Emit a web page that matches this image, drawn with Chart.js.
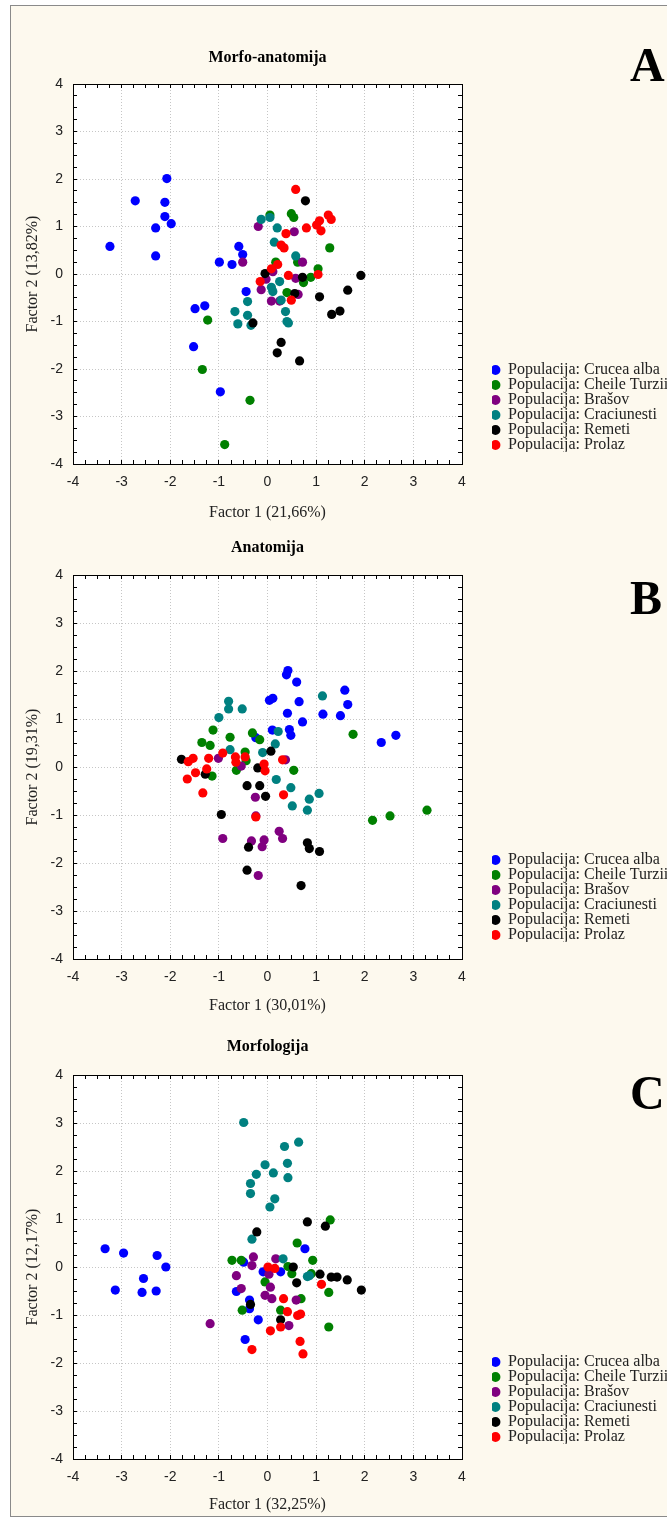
<!DOCTYPE html>
<html>
<head>
<meta charset="utf-8">
<script src="https://cdn.jsdelivr.net/npm/chart.js@4.4.1/dist/chart.umd.min.js"></script>
<style>
html,body{margin:0;padding:0;background:#ffffff;overflow:hidden;width:667px;height:1520px;}
#frame{position:absolute;left:10px;top:5px;width:700px;height:1510px;border:1px solid #8a8a8a;background:#fdf9ee;}
canvas.panel{position:absolute;left:0;}
.letter{position:absolute;left:630px;font-family:'Liberation Serif',serif;font-weight:bold;font-size:48px;line-height:48px;color:#000;}
</style>
</head>
<body>
<div id="frame"></div>
<canvas id="cA" class="panel" style="top:0px" width="667" height="530"></canvas>
<canvas id="cB" class="panel" style="top:530px" width="667" height="500"></canvas>
<canvas id="cC" class="panel" style="top:1030px" width="667" height="490"></canvas>
<div class="letter" style="top:41px">A</div>
<div class="letter" style="top:574px">B</div>
<div class="letter" style="top:1069px">C</div>
<script>
// ---------- labels ----------
const POPULATIONS = ['Populacija: Crucea alba','Populacija: Cheile Turzii','Populacija: Brašov','Populacija: Craciunesti','Populacija: Remeti','Populacija: Prolaz'];
const COLORS = ['#0000ff','#008000','#800080','#008080','#000000','#ff0000'];
const AXIS_TICKS = [-4,-3.75,-3.5,-3.25,-3,-2.75,-2.5,-2.25,-2,-1.75,-1.5,-1.25,-1,-0.75,-0.5,-0.25,0,0.25,0.5,0.75,1,1.25,1.5,1.75,2,2.25,2.5,2.75,3,3.25,3.5,3.75,4];

// ---------- A: Morfo-anatomija ----------
const A_CRUCEA = [[-3.24,0.58],[-2.72,1.54],[-2.07,2.01],[-2.11,1.51],[-2.11,1.21],[-2.30,0.97],[-1.98,1.06],[-2.30,0.38],[-0.99,0.25],[-0.73,0.20],[-0.59,0.58],[-0.51,0.41],[-0.44,-0.37],[-1.49,-0.73],[-1.29,-0.67],[-1.52,-1.53],[-0.97,-2.48]];
const A_CHEILE = [[0.05,1.24],[0.49,1.27],[0.54,1.19],[1.28,0.55],[0.17,0.25],[0.62,0.25],[1.04,0.11],[-1.23,-0.97],[-1.34,-2.01],[-0.36,-2.66],[-0.88,-3.59],[0.40,-0.39],[0.74,-0.18],[0.89,-0.07]];
const A_BRASOV = [[-0.51,0.25],[-0.19,1.00],[0.55,0.89],[0.72,0.25],[-0.03,-0.11],[-0.13,-0.33],[0.08,-0.57],[0.25,-0.57],[0.58,-0.09],[0.63,-0.43],[0.11,0.05]];
const A_CRACIUNESTI = [[-0.13,1.15],[0.05,1.19],[0.20,0.97],[0.14,0.67],[0.58,0.38],[-0.41,-0.58],[-0.41,-0.87],[-0.67,-0.79],[-0.61,-1.05],[-0.34,-1.08],[0.25,-0.16],[0.08,-0.28],[0.11,-0.37],[0.28,-0.55],[0.37,-0.79],[0.40,-1.00],[0.43,-1.03]];
const A_REMETI = [[0.78,1.54],[-0.05,0.01],[-0.30,-1.03],[0.72,-0.07],[0.56,-0.41],[1.07,-0.48],[1.32,-0.85],[1.49,-0.78],[1.65,-0.34],[1.92,-0.03],[0.28,-1.44],[0.20,-1.66],[0.66,-1.83]];
const A_PROLAZ = [[0.58,1.78],[0.38,0.85],[0.80,0.97],[0.28,0.61],[0.34,0.55],[1.07,1.12],[1.01,1.03],[1.10,0.91],[1.25,1.24],[1.31,1.15],[0.21,0.20],[0.08,0.11],[-0.15,-0.16],[0.43,-0.03],[1.04,-0.01],[0.49,-0.55]];

// ---------- B: Anatomija ----------
const B_CRUCEA = [[0.42,2.01],[0.39,1.92],[0.60,1.77],[0.04,1.39],[0.11,1.43],[0.65,1.36],[0.41,1.12],[0.72,0.94],[1.14,1.10],[1.50,1.07],[1.59,1.60],[1.65,1.30],[2.34,0.51],[2.64,0.66],[0.10,0.77],[0.45,0.78],[0.48,0.66],[-0.24,0.61]];
const B_CHEILE = [[-1.12,0.77],[-1.35,0.51],[-1.18,0.45],[-0.77,0.62],[-0.31,0.71],[-0.16,0.57],[1.76,0.68],[-0.46,0.31],[-1.14,-0.19],[-0.64,-0.07],[-0.44,0.13],[0.54,-0.07],[2.16,-1.11],[2.52,-1.02],[3.28,-0.90]];
const B_BRASOV = [[-1.01,0.18],[-0.54,0.02],[0.37,0.15],[-0.25,-0.63],[-0.24,-1.02],[-0.92,-1.49],[-0.33,-1.54],[-0.07,-1.52],[-0.11,-1.66],[0.24,-1.34],[0.31,-1.49],[-0.19,-2.26]];
const B_CRACIUNESTI = [[-0.80,1.37],[-0.80,1.21],[-0.52,1.21],[-1.00,1.03],[1.13,1.48],[0.22,0.74],[0.16,0.48],[-0.77,0.36],[-0.10,0.30],[0.18,-0.26],[0.48,-0.43],[0.51,-0.81],[0.82,-0.90],[0.86,-0.67],[1.06,-0.55]];
const B_REMETI = [[0.07,0.33],[-1.77,0.16],[-1.28,-0.15],[-0.20,-0.02],[-0.42,-0.39],[-0.16,-0.39],[-0.04,-0.61],[-0.95,-0.99],[-0.39,-1.67],[-0.42,-2.15],[0.82,-1.58],[0.86,-1.70],[1.07,-1.76],[0.69,-2.47]];
const B_PROLAZ = [[-1.63,0.11],[-1.53,0.18],[-1.21,0.18],[-0.92,0.29],[-0.66,0.21],[-0.65,0.10],[-0.46,0.21],[-1.25,-0.04],[-1.48,-0.12],[-1.65,-0.25],[-1.33,-0.54],[-0.07,0.06],[-0.05,-0.08],[0.31,0.15],[0.33,-0.58],[-0.24,-1.04]];

// ---------- C: Morfologija ----------
const C_CRUCEA = [[0.77,0.38],[-3.34,0.38],[-2.96,0.29],[-2.27,0.24],[-2.09,0.00],[-2.55,-0.24],[-3.13,-0.48],[-2.58,-0.53],[-2.29,-0.50],[-0.49,0.10],[-0.09,-0.10],[0.27,-0.10],[-0.64,-0.51],[-0.37,-0.69],[-0.37,-0.87],[-0.19,-1.10],[-0.46,-1.51]];
const C_CHEILE = [[1.29,0.98],[0.61,0.50],[-0.73,0.14],[-0.54,0.14],[0.42,0.01],[0.50,-0.14],[0.93,0.14],[0.90,-0.14],[-0.05,-0.31],[-0.52,-0.90],[0.69,-0.66],[0.27,-0.90],[1.26,-0.53],[1.26,-1.25]];
const C_BRASOV = [[-0.29,0.21],[0.17,0.17],[-0.32,0.03],[-0.64,-0.18],[0.03,-0.15],[0.06,-0.42],[-0.54,-0.45],[-0.05,-0.59],[0.09,-0.66],[0.59,-0.69],[-1.18,-1.18],[0.44,-1.22]];
const C_CRACIUNESTI = [[-0.49,3.01],[0.35,2.51],[0.64,2.60],[-0.05,2.13],[0.41,2.16],[-0.23,1.93],[0.12,1.96],[0.42,1.86],[-0.35,1.74],[-0.35,1.53],[0.15,1.42],[0.05,1.25],[-0.32,0.58],[0.32,0.17],[0.82,-0.20],[0.86,-0.18]];
const C_REMETI = [[-0.22,0.73],[0.82,0.94],[1.19,0.85],[0.53,0.00],[0.60,-0.33],[1.08,-0.15],[1.31,-0.21],[1.43,-0.21],[1.64,-0.27],[1.93,-0.48],[-0.35,-0.78],[0.27,-1.10]];
const C_PROLAZ = [[0.01,0.00],[0.15,-0.03],[1.11,-0.36],[0.33,-0.66],[0.41,-0.93],[0.62,-1.01],[0.68,-0.98],[0.06,-1.33],[0.27,-1.25],[0.67,-1.55],[-0.32,-1.72],[0.73,-1.81]];

const PANELS = [
  {id:'cA', title:'Morfo-anatomija', xTitle:'Factor 1 (21,66%)', yTitle:'Factor 2 (13,82%)',
   series:[A_CRUCEA,A_CHEILE,A_BRASOV,A_CRACIUNESTI,A_REMETI,A_PROLAZ],
   titlePad:{top:48.4,bottom:16.4}, xAxisHeight:66, xTitlePad:7.4, legendShift:12},
  {id:'cB', title:'Anatomija', xTitle:'Factor 1 (30,01%)', yTitle:'Factor 2 (19,31%)',
   series:[B_CRUCEA,B_CHEILE,B_BRASOV,B_CRACIUNESTI,B_REMETI,B_PROLAZ],
   titlePad:{top:8.4,bottom:17.4}, xAxisHeight:71, xTitlePad:14.4, legendShift:17},
  {id:'cC', title:'Morfologija', xTitle:'Factor 1 (32,25%)', yTitle:'Factor 2 (12,17%)',
   series:[C_CRUCEA,C_CHEILE,C_BRASOV,C_CRACIUNESTI,C_REMETI,C_PROLAZ],
   titlePad:{top:7.4,bottom:18.4}, xAxisHeight:61, xTitlePad:5.4, legendShift:15}
];

const SERIF = "'Liberation Serif', 'Times New Roman', serif";
const SANS = "'Liberation Sans', Arial, sans-serif";
const tickLabel = v => Number.isInteger(v) ? String(v) : '';
const gridColor = c => (c.tick && Number.isInteger(c.tick.value)) ? '#c6c6c6' : 'rgba(0,0,0,0)';
const setTicks = s => { s.ticks = AXIS_TICKS.map(v => ({value: v})); };

const whiteArea = {
  id: 'whiteArea',
  beforeDraw(chart) {
    const a = chart.chartArea, ctx = chart.ctx;
    ctx.save(); ctx.fillStyle = '#ffffff';
    ctx.fillRect(a.left, a.top, a.right - a.left, a.bottom - a.top);
    ctx.restore();
  }
};

PANELS.forEach(p => {
  const datasets = p.series.map((arr, i) => ({
    label: POPULATIONS[i],
    data: arr.map(d => ({x: d[0], y: d[1]})),
    backgroundColor: COLORS[i],
    borderColor: COLORS[i],
    pointBackgroundColor: COLORS[i],
    pointBorderColor: COLORS[i],
    pointRadius: 4.6,
    pointHoverRadius: 4.6,
    pointBorderWidth: 0,
    borderWidth: 0,
    showLine: false,
    order: 5 - i
  }));
  const shiftPlugin = {
    id: 'legendShift',
    afterLayout(chart) {
      if (chart.legend) { chart.legend.top -= p.legendShift; chart.legend.bottom -= p.legendShift; }
    }
  };
  new Chart(document.getElementById(p.id), {
    type: 'scatter',
    data: {datasets},
    plugins: [whiteArea, shiftPlugin],
    options: {
      responsive: false,
      animation: false,
      events: [],
      layout: {padding: 0},
      plugins: {
        tooltip: {enabled: false},
        title: {display: true, text: p.title, fullSize: false, color: '#000',
                font: {family: SERIF, size: 16, weight: 'bold'}, padding: p.titlePad},
        legend: {
          display: true, position: 'right', align: 'end', fullSize: false, maxWidth: 175,
          labels: {usePointStyle: true, pointStyle: 'circle', boxWidth: 9, boxHeight: 7,
                   padding: -1, color: '#222', font: {family: SERIF, size: 16},
                   sort: (a, b) => a.datasetIndex - b.datasetIndex}
        }
      },
      scales: {
        x: {
          type: 'linear', position: 'bottom', min: -4, max: 4,
          afterBuildTicks: setTicks,
          afterFit: s => { s.height = p.xAxisHeight; },
          ticks: {callback: tickLabel, autoSkip: false, maxRotation: 0, minRotation: 0, padding: 13.6,
                  color: '#222', font: {family: SANS, size: 14}},
          grid: {color: gridColor, lineWidth: 1, drawTicks: true, tickLength: -4, tickColor: '#000', tickWidth: 1},
          border: {display: true, color: '#000', width: 1, dash: [1, 2]},
          title: {display: true, text: p.xTitle, color: '#222', font: {family: SERIF, size: 16},
                  padding: {top: 0, bottom: p.xTitlePad}}
        },
        y: {
          type: 'linear', position: 'left', min: -4, max: 4,
          afterBuildTicks: setTicks,
          afterFit: s => { s.width = 73; },
          ticks: {callback: tickLabel, autoSkip: false, padding: 14, color: '#222', font: {family: SANS, size: 14}},
          grid: {color: gridColor, lineWidth: 1, drawTicks: true, tickLength: -4, tickColor: '#000', tickWidth: 1},
          border: {display: true, color: '#000', width: 1, dash: [1, 2]},
          title: {display: true, text: p.yTitle, color: '#222', font: {family: SERIF, size: 16},
                  padding: {top: 23.4, bottom: 0}}
        },
        x2: {
          type: 'linear', position: 'top', min: -4, max: 4,
          afterBuildTicks: setTicks,
          afterFit: s => { s.height = 0; },
          ticks: {display: false},
          grid: {drawOnChartArea: false, drawTicks: true, tickLength: -4, tickColor: '#000', tickWidth: 1, color: '#000'},
          border: {display: true, color: '#000', width: 1}
        },
        y2: {
          type: 'linear', position: 'right', min: -4, max: 4,
          afterBuildTicks: setTicks,
          afterFit: s => { s.width = 30; },
          ticks: {display: false},
          grid: {drawOnChartArea: false, drawTicks: true, tickLength: -4, tickColor: '#000', tickWidth: 1, color: '#000'},
          border: {display: true, color: '#000', width: 1}
        }
      }
    }
  });
});
</script>
</body>
</html>
